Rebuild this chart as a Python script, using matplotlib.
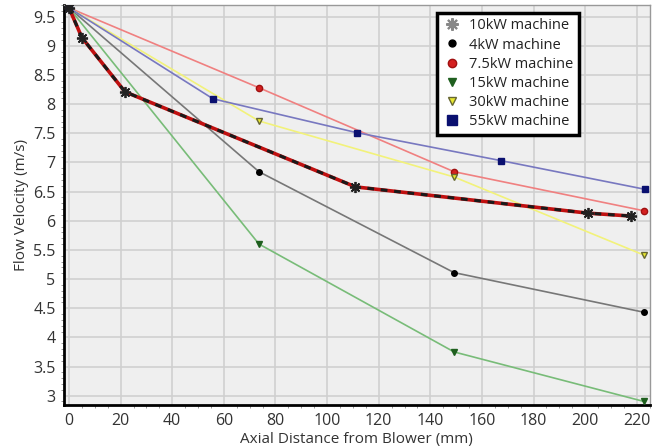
import matplotlib
matplotlib.use("Agg")
import matplotlib.pyplot as plt
from matplotlib.lines import Line2D
from matplotlib.ticker import MultipleLocator

# data
x10 = [0, 5, 21.7, 111, 201, 217.7]
y10 = [9.65, 9.14, 8.21, 6.58, 6.13, 6.08]
x_third = [0, 73.6, 149.2, 222.8]
y4 = [9.65, 6.84, 5.11, 4.43]
y75 = [9.65, 8.28, 6.84, 6.17]
y15 = [9.65, 5.60, 3.75, 2.90]
y30 = [9.65, 7.71, 6.75, 5.41]
x55 = [0, 55.8, 111.5, 167.4, 223]
y55 = [9.65, 8.09, 7.51, 7.03, 6.54]

labels = ["10kW machine", "4kW machine", "7.5kW machine",
          "15kW machine", "30kW machine", "55kW machine"]
xticks = list(range(0, 221, 20))
yticks = [3, 3.5, 4, 4.5, 5, 5.5, 6, 6.5, 7, 7.5, 8, 8.5, 9, 9.5]

plt.rcParams["font.family"] = ["Open Sans", "DejaVu Sans"]
TXT = "#333333"

fig = plt.figure(figsize=(6.65, 4.48), dpi=100)
ax = fig.add_axes([0.096, 0.096, 0.881, 0.893])
ax.set_facecolor("#efefef")

ax.plot(x_third, y4, color="#777777", lw=1.2, marker="o", ms=4, mfc="black", mec="black", zorder=3)
ax.plot(x_third, y75, color="#f08080", lw=1.2, marker="o", ms=4.5, mfc="#d42020", mec="#a01010", zorder=3)
ax.plot(x_third, y15, color="#78bc78", lw=1.2, marker="v", ms=4.5, mfc="#1f5f1f", mec="#1f5f1f", zorder=3)
ax.plot(x_third, y30, color="#f2f27a", lw=1.2, marker="v", ms=5, mfc="#e8e830", mec="#666633", zorder=3)
ax.plot(x55, y55, color="#7878c0", lw=1.2, marker="s", ms=5, mfc="#0a1070", mec="#0a1070", zorder=3)
ax.plot(x10, y10, color="#c01010", lw=2.6, zorder=4)
ax.plot(x10, y10, color="#1a1a1a", lw=2.2, ls=(0, (2.2, 2.2)), marker=(8, 2, 0), ms=8,
        mec="#222222", mew=1.3, zorder=5)

ax.set_xlim(-2, 225)
ax.set_ylim(2.84, 9.7)
ax.set_xticks(xticks)
ax.set_yticks(yticks)
ax.set_yticklabels([f"{v:g}" for v in yticks])
ax.xaxis.set_minor_locator(MultipleLocator(5))
ax.yaxis.set_minor_locator(MultipleLocator(0.1))
ax.tick_params(which="major", length=0, labelsize=11.5, labelcolor=TXT, pad=6)
ax.tick_params(which="minor", length=2, color="#888888")
ax.grid(True, which="major", color="#d0d0d0", lw=1.2)
ax.set_axisbelow(True)
for side in ("left", "bottom"):
    ax.spines[side].set_color("black")
    ax.spines[side].set_linewidth(2)
for side in ("top", "right"):
    ax.spines[side].set_color("#999999")
    ax.spines[side].set_linewidth(1)

ax.set_xlabel("Axial Distance from Blower (mm)", fontsize=11, color=TXT, labelpad=2)
ax.set_ylabel("Flow Velocity (m/s)", fontsize=11, color=TXT, labelpad=3)

handles = [
    Line2D([], [], ls="", marker=(8, 2, 0), ms=9, mec="#888888", mew=1.5),
    Line2D([], [], ls="", marker="o", ms=5, mfc="black", mec="black"),
    Line2D([], [], ls="", marker="o", ms=6, mfc="#d42020", mec="#a01010"),
    Line2D([], [], ls="", marker="v", ms=6, mfc="#1f5f1f", mec="#1f5f1f"),
    Line2D([], [], ls="", marker="v", ms=6, mfc="#e8e830", mec="#666633"),
    Line2D([], [], ls="", marker="s", ms=7, mfc="#0a1070", mec="#0a1070"),
]
leg = ax.legend(handles, labels, loc="upper left", bbox_to_anchor=(0.625, 0.999),
                fontsize=10.5, frameon=True, fancybox=False, framealpha=1,
                edgecolor="black", handlelength=1.2, handletextpad=0.6,
                labelspacing=0.28, borderpad=0.4)
leg.get_frame().set_linewidth(2.5)
for t in leg.get_texts():
    t.set_color("#222222")

fig.savefig("out.png", dpi=100, facecolor="white")
